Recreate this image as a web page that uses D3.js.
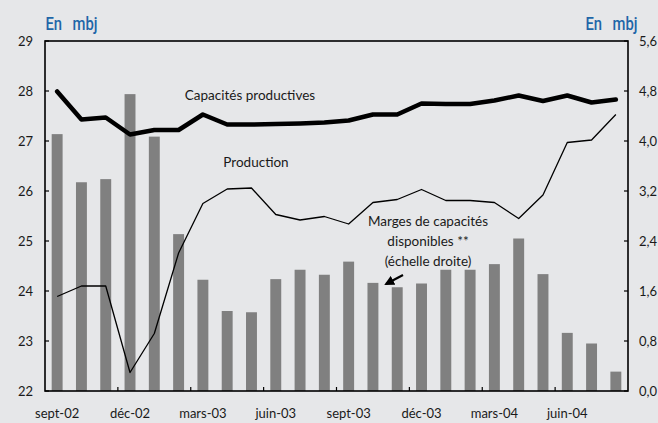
<!DOCTYPE html>
<html><head><meta charset="utf-8">
<script src="https://cdn.jsdelivr.net/npm/d3@7"></script>
<style>
html,body{margin:0;padding:0;background:#e6e7e9;}
svg{display:block;}
text{font-family:Lato,"Open Sans",sans-serif;fill:#1a1a1a;}
</style></head><body>
<svg id="c" width="658" height="423"></svg>
<script>
const months = ['sept-02','oct-02','nov-02','déc-02','janv-03','févr-03','mars-03','avr-03','mai-03','juin-03','juil-03','août-03','sept-03','oct-03','nov-03','déc-03','janv-04','févr-04','mars-04','avr-04','mai-04','juin-04','juil-04','août-04'];
const capacites = [27.99,27.43,27.47,27.13,27.22,27.22,27.53,27.33,27.33,27.34,27.35,27.37,27.41,27.53,27.53,27.75,27.74,27.74,27.81,27.91,27.8,27.91,27.77,27.83];
const production = [23.89,24.1,24.1,22.37,23.15,24.76,25.75,26.04,26.06,25.53,25.42,25.49,25.34,25.77,25.83,26.03,25.81,25.81,25.77,25.45,25.92,26.97,27.02,27.53];
const marges = [4.11,3.34,3.39,4.75,4.07,2.51,1.78,1.28,1.26,1.79,1.94,1.86,2.07,1.73,1.66,1.72,1.94,1.94,2.03,2.44,1.87,0.93,0.76,0.31];
const xTickLabels = ['sept-02','déc-02','mars-03','juin-03','sept-03','déc-03','mars-04','juin-04'];
const leftTicks = [22,23,24,25,26,27,28,29];
const rightTicks = [0,0.8,1.6,2.4,3.2,4.0,4.8,5.6];

const svg = d3.select('#c');
const L = 45, R = 628, T = 41, B = 391;
const xb = d3.scaleBand().domain(months).range([L, R]).padding(0);
const xBar = d3.scaleBand().domain(months).range([L, R]).paddingInner(0.55).paddingOuter(0.275);
const cx = m => xb(m) + xb.bandwidth()/2;
const yL = d3.scaleLinear().domain([22,29]).range([B, T]);
const yR = d3.scaleLinear().domain([0,5.6]).range([B, T]);

// bars
svg.append('g').selectAll('rect').data(marges).join('rect')
  .attr('x', (d,i) => xBar(months[i]))
  .attr('width', xBar.bandwidth())
  .attr('y', d => yR(d))
  .attr('height', d => B - yR(d))
  .attr('fill', '#808080');

// production line
svg.append('path')
  .attr('d', d3.line().x((d,i)=>cx(months[i])).y(d=>yL(d))(production))
  .attr('fill','none').attr('stroke','#000').attr('stroke-width',1.3).attr('stroke-linejoin','round');
// capacites line
svg.append('path')
  .attr('d', d3.line().x((d,i)=>cx(months[i])).y(d=>yL(d))(capacites))
  .attr('fill','none').attr('stroke','#000').attr('stroke-width',4.5).attr('stroke-linejoin','round').attr('stroke-linecap','round');

// frame
svg.append('rect').attr('x',L).attr('y',T).attr('width',R-L).attr('height',B-T)
  .attr('fill','none').attr('stroke','#000').attr('stroke-width',1.6);

// left axis
const gl = svg.append('g');
leftTicks.forEach(v => {
  gl.append('line').attr('x1',L).attr('x2',L+4).attr('y1',yL(v)).attr('y2',yL(v)).attr('stroke','#000').attr('stroke-width',1.2);
  gl.append('text').attr('x',33).attr('y',yL(v)+4.5).attr('text-anchor','end').attr('font-size',13).text(v);
});
// right axis
const gr = svg.append('g');
rightTicks.forEach(v => {
  gr.append('line').attr('x1',R-4).attr('x2',R).attr('y1',yR(v)).attr('y2',yR(v)).attr('stroke','#000').attr('stroke-width',1.2);
  gr.append('text').attr('x',639).attr('y',yR(v)+4.5).attr('text-anchor','start').attr('font-size',13).text(d3.format('.1f')(v).replace('.',','));
});
// x axis
const gx = svg.append('g');
months.forEach((m,i) => {
  if (i>0 && i%3===0) {
    gx.append('line').attr('x1',xb(m)).attr('x2',xb(m)).attr('y1',B).attr('y2',B-4).attr('stroke','#000').attr('stroke-width',1.2);
  }
});
xTickLabels.forEach(m => {
  gx.append('text').attr('x',cx(m)).attr('y',418).attr('text-anchor','middle').attr('font-size',13).text(m);
});

// units
function unit(x0, x1) {
  [['En', x0], ['mbj', x1]].forEach(([t, x]) => {
    svg.append('text').attr('transform', `translate(${x},30) scale(0.78,1)`)
      .attr('font-size', 19).attr('font-weight', 500)
      .style('font-family', 'Roboto,"Open Sans",sans-serif').style('fill', '#1f66a8').text(t);
  });
}
unit(45.5, 72.5);
unit(585.5, 612.5);

// annotations
svg.append('text').attr('x',250).attr('y',100).attr('text-anchor','middle').attr('font-size',13.5).text('Capacités productives');
svg.append('text').attr('x',256).attr('y',167).attr('text-anchor','middle').attr('font-size',13.5).text('Production');
const ann = ['Marges de capacités','disponibles **','(échelle droite)'];
ann.forEach((t,i)=>{
  svg.append('text').attr('x',428).attr('y',226+i*20).attr('text-anchor','middle').attr('font-size',13.5).text(t);
});
// arrow
svg.append('defs').append('marker').attr('id','ah').attr('viewBox','0 0 10 10').attr('refX',8).attr('refY',5)
  .attr('markerWidth',4.5).attr('markerHeight',4.5).attr('orient','auto')
  .append('path').attr('d','M0,0L10,5L0,10z').attr('fill','#000');
svg.append('line').attr('x1',403).attr('y1',275).attr('x2',386).attr('y2',284)
  .attr('stroke','#000').attr('stroke-width',2.2).attr('marker-end','url(#ah)');
</script>
</body></html>
